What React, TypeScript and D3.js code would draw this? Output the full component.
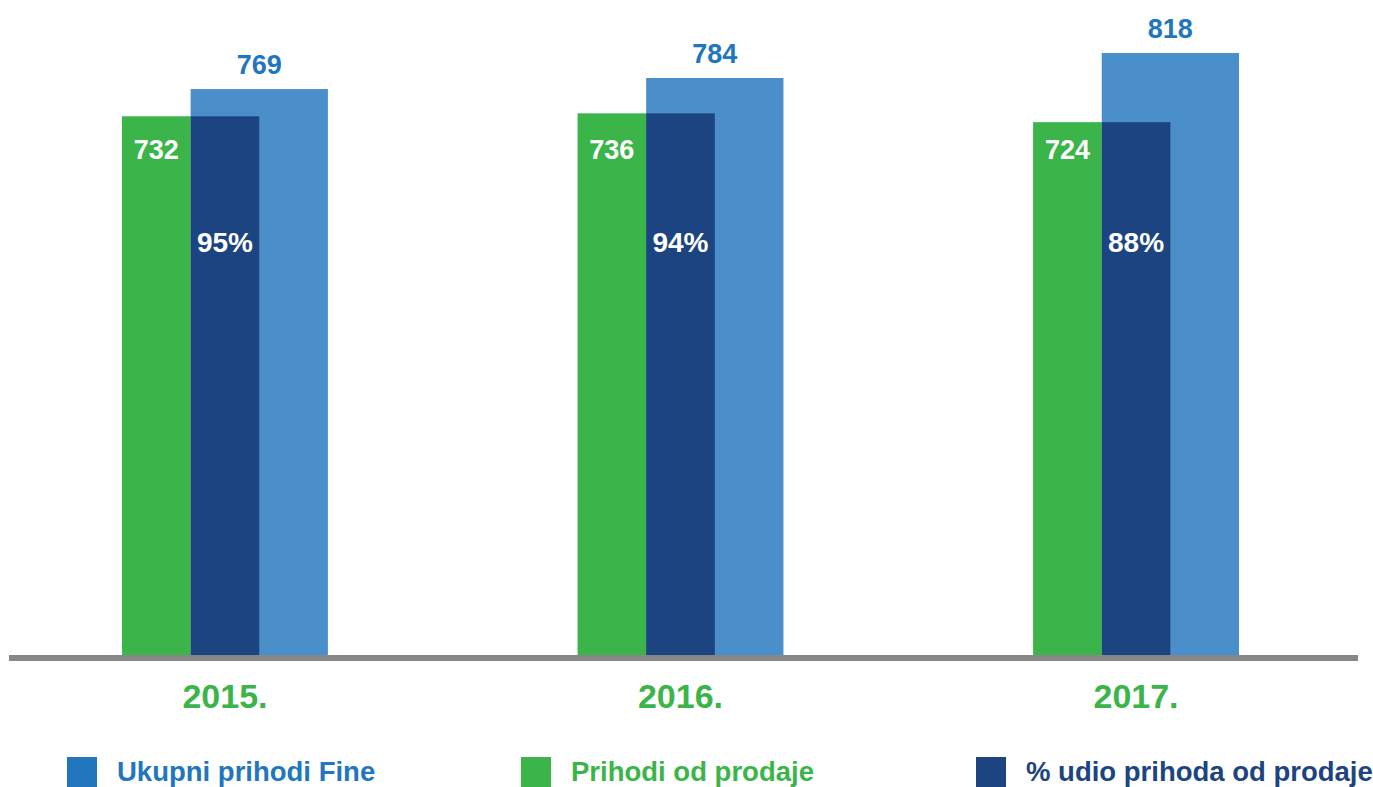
import React from "react";
import * as d3 from "d3";

const years = ["2015.", "2016.", "2017."];
const totalIncome = [769, 784, 818];
const salesIncome = [732, 736, 724];
const salesShare = ["95%", "94%", "88%"];
const legendLabels = ["Ukupni prihodi Fine", "Prihodi od prodaje", "% udio prihoda od prodaje"];

const W = 1373;
const H = 787;
const BASE = 655;
const FONT = "'Liberation Sans', Arial, Helvetica, sans-serif";
const GREEN = "#3BB54A";
const NAVY = "#1C4480";
const LIGHT = "#4A8FC9";
const BLUE_TXT = "#2176BD";
const GRAY = "#87878A";

export default function App() {
  const x = d3.scaleBand<string>().domain(years).range([122, 1239]).paddingInner(0.548).paddingOuter(0);
  const bw = x.bandwidth();
  const xi = d3.scaleLinear().domain([0, 3]).range([0, bw]);
  const y = d3.scaleLinear().domain([0, 890]).range([BASE, 0]);

  const legendColors = [BLUE_TXT, GREEN, NAVY];
  const legendSquareX = [67, 521, 976];

  return (
    <svg width={W} height={H} style={{ position: "absolute", left: 0, top: 0, display: "block" }} fontFamily={FONT}>
      <rect x={0} y={0} width={W} height={H} fill="#fff" />
      {years.map((yr, i) => {
        const gx = x(yr)!;
        return (
          <g key={yr}>
            <rect x={gx + xi(1)} y={y(totalIncome[i])} width={xi(3) - xi(1)} height={BASE - y(totalIncome[i])} fill={LIGHT} />
            <rect x={gx + xi(0)} y={y(salesIncome[i])} width={xi(1) - xi(0)} height={BASE - y(salesIncome[i])} fill={GREEN} />
            <rect x={gx + xi(1)} y={y(salesIncome[i])} width={xi(2) - xi(1)} height={BASE - y(salesIncome[i])} fill={NAVY} />
            <text x={gx + xi(2)} y={y(totalIncome[i]) - 15} textAnchor="middle" fontSize={27} fontWeight="bold" fill={BLUE_TXT}>
              {totalIncome[i]}
            </text>
            <text x={gx + xi(0.5)} y={159} textAnchor="middle" fontSize={27} fontWeight="bold" fill="#fff">
              {salesIncome[i]}
            </text>
            <text x={gx + xi(1.5)} y={252} textAnchor="middle" fontSize={28} fontWeight="bold" fill="#fff">
              {salesShare[i]}
            </text>
            <text x={gx + bw / 2} y={708} textAnchor="middle" fontSize={34} fontWeight="bold" fill={GREEN}>
              {yr}
            </text>
          </g>
        );
      })}
      <rect x={9} y={BASE} width={1358 - 9} height={6} fill={GRAY} />
      {legendLabels.map((lab, i) => (
        <g key={lab}>
          <rect x={legendSquareX[i]} y={757} width={30} height={30} fill={legendColors[i]} />
          <text x={legendSquareX[i] + 50} y={781} fontSize={27.5} fontWeight="bold" fill={legendColors[i]}>
            {lab}
          </text>
        </g>
      ))}
    </svg>
  );
}
